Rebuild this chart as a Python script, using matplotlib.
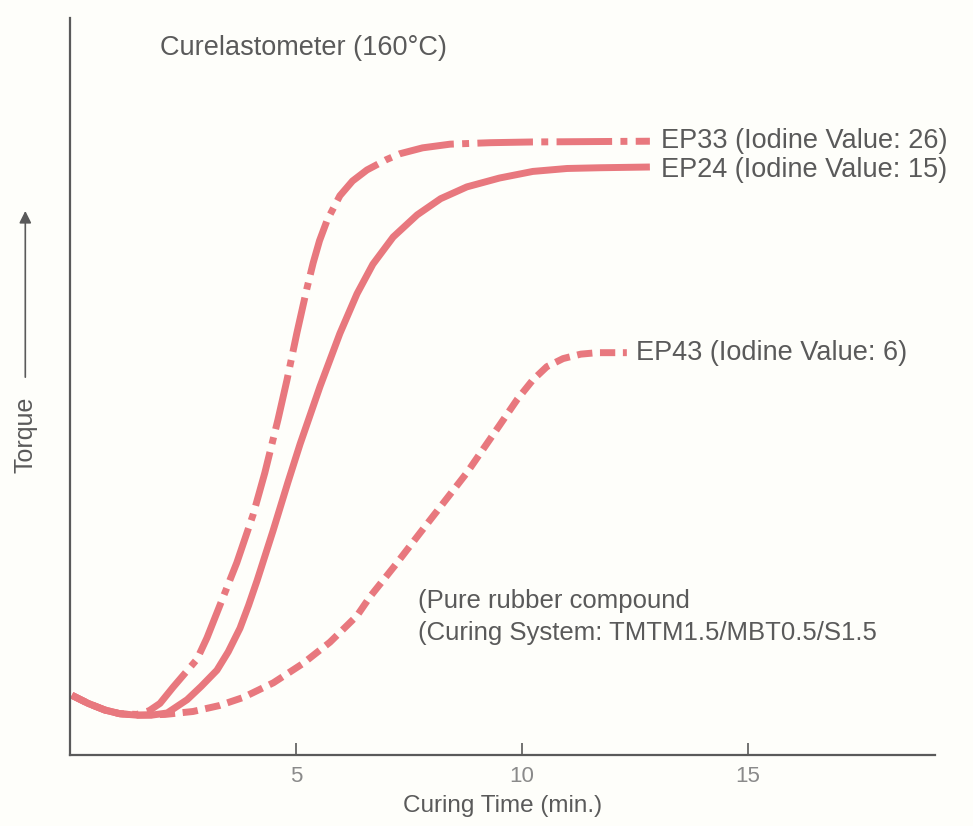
import matplotlib
matplotlib.use("Agg")
import matplotlib.pyplot as plt

plt.rcParams['font.family'] = ['Liberation Sans', 'DejaVu Sans']
plt.rcParams['lines.scale_dashes'] = False

# curing time (min.) and torque (arbitrary units)
ep24_t = [0.04, 0.4, 0.77, 1.1, 1.48, 1.8, 2.15, 2.59, 2.9, 3.25, 3.5, 3.76, 3.95, 4.14,
          4.49, 4.82, 5.09, 5.53, 5.97, 6.35, 6.70, 7.15, 7.68, 8.2, 8.78, 9.5, 10.24,
          11.0, 11.73, 12.83]
ep24_tq = [8.1, 7.0, 6.1, 5.6, 5.4, 5.4, 5.7, 7.5, 9.3, 11.5, 14.0, 17.2, 20.3, 23.7,
           30.4, 37.0, 42.2, 50.0, 57.2, 62.6, 66.6, 70.3, 73.3, 75.5, 77.1, 78.3, 79.2,
           79.6, 79.7, 79.8]

ep33_t = [0.04, 0.4, 0.77, 1.1, 1.48, 1.75, 1.99, 2.28, 2.81, 3.03, 3.25, 3.69, 4.05,
          4.31, 4.60, 4.80, 5.02, 5.24, 5.38, 5.52, 5.69, 5.97, 6.25, 6.57, 7.0, 7.30,
          7.8, 8.41, 9.3, 10.24, 12.83]
ep33_tq = [8.1, 7.0, 6.1, 5.6, 5.5, 6.0, 7.0, 9.2, 13.0, 15.9, 19.3, 26.1, 32.6,
           38.3, 45.5, 50.9, 57.3, 63.3, 66.8, 69.8, 72.6, 75.9, 77.9, 79.4, 80.8, 81.6,
           82.4, 82.9, 83.1, 83.2, 83.3]

ep43_t = [0.04, 0.4, 0.77, 1.1, 1.48, 2.1, 2.72, 3.3, 3.83, 4.5, 5.15, 5.75, 6.35,
          6.64, 7.2, 7.74, 8.78, 9.51, 9.9, 10.24, 10.55, 10.91, 11.3, 11.66, 12.32]
ep43_tq = [8.1, 7.0, 6.1, 5.6, 5.4, 5.5, 5.9, 6.7, 7.8, 9.8, 12.4, 15.3, 18.9,
           21.5, 25.8, 30.1, 38.3, 44.8, 48.3, 50.9, 52.7, 53.8, 54.4, 54.6, 54.6]

labels = ['EP33 (Iodine Value: 26)', 'EP24 (Iodine Value: 15)', 'EP43 (Iodine Value: 6)']
xticks = [5, 10, 15]

red = '#e8787e'
grey = '#5a5a5a'

fig = plt.figure(figsize=(9.73, 8.26), dpi=100, facecolor='#fefefa')
ax = fig.add_axes([0.072, 0.086, 0.889, 0.892])
ax.set_facecolor('#fefefa')

ax.plot(ep43_t, ep43_tq, color=red, lw=5, dashes=(11, 5.5), solid_joinstyle='round')
ax.plot(ep33_t, ep33_tq, color=red, lw=5, dashes=(40, 6, 5, 6), solid_joinstyle='round')
ax.plot(ep24_t, ep24_tq, color=red, lw=5, solid_joinstyle='round', solid_capstyle='butt')

# curve labels
ax.text(ep33_t[-1] + 0.25, ep33_tq[-1], labels[0], fontsize=19.5, color=grey, va='center')
ax.text(ep24_t[-1] + 0.25, ep24_tq[-1] - 0.4, labels[1], fontsize=19.5, color=grey, va='center')
ax.text(ep43_t[-1] + 0.2, ep43_tq[-1], labels[2], fontsize=19.5, color=grey, va='center')

ax.text(1.99, 95.9, 'Curelastometer (160°C)', fontsize=19.5, color=grey, va='center')
ax.text(7.70, 20.9, '(Pure rubber compound', fontsize=18.5, color=grey, va='center')
ax.text(7.70, 16.6, '(Curing System: TMTM1.5/MBT0.5/S1.5', fontsize=18.5, color=grey, va='center')

ax.set_xlim(0, 19.14)
ax.set_ylim(0, 100)
ax.set_xticks(xticks)
ax.set_yticks([])
ax.tick_params(axis='x', direction='in', length=9, width=1.2, color=grey,
               labelsize=16, labelcolor='#8a8a8a', pad=8)
for s in ['top', 'right']:
    ax.spines[s].set_visible(False)
for s in ['left', 'bottom']:
    ax.spines[s].set_color(grey)
    ax.spines[s].set_linewidth(1.6)

ax.set_xlabel('Curing Time (min.)', fontsize=17.5, color=grey, labelpad=6)

# torque axis label with upward arrow
fig.text(0.026, 0.473, 'Torque', rotation=90, fontsize=18, color=grey,
         ha='center', va='center')
fig.add_artist(matplotlib.patches.FancyArrowPatch(
    (0.026, 0.54), (0.026, 0.748), transform=fig.transFigure,
    arrowstyle='-|>', mutation_scale=18, color=grey, lw=1.2))

fig.savefig('out.png', dpi=100, facecolor=fig.get_facecolor())
